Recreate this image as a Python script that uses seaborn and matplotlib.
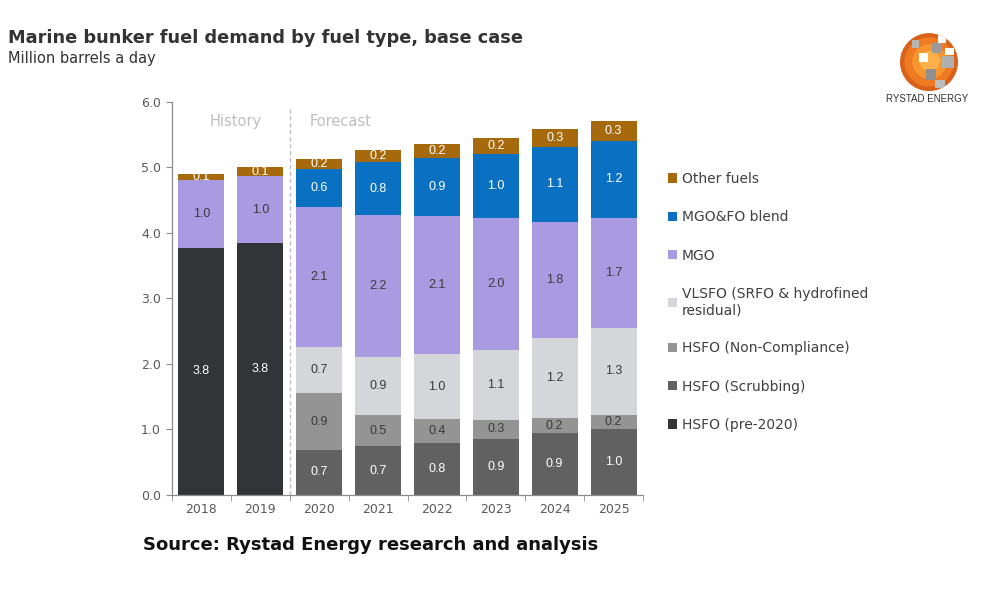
import numpy as np
import pandas as pd
import matplotlib
matplotlib.use("Agg")
import matplotlib.pyplot as plt
from matplotlib.patches import Patch, Circle, Rectangle
import seaborn as sns

# ---------------- data ----------------
years = ["2018", "2019", "2020", "2021", "2022", "2023", "2024", "2025"]
hsfo_pre2020 = [3.77, 3.84, 0, 0, 0, 0, 0, 0]
hsfo_scrubbing = [0, 0, 0.69, 0.74, 0.80, 0.86, 0.94, 1.00]
hsfo_noncompliance = [0, 0, 0.86, 0.48, 0.36, 0.28, 0.23, 0.22]
vlsfo = [0, 0, 0.71, 0.89, 0.99, 1.07, 1.22, 1.33]
mgo = [1.04, 1.03, 2.14, 2.16, 2.11, 2.02, 1.78, 1.68]
mgo_fo_blend = [0, 0, 0.57, 0.81, 0.88, 0.97, 1.14, 1.17]
other_fuels = [0.09, 0.13, 0.16, 0.18, 0.21, 0.24, 0.27, 0.31]

# legend order (top of stack first)
fuel_names = ["Other fuels", "MGO&FO blend", "MGO",
              "VLSFO (SRFO & hydrofined\nresidual)", "HSFO (Non-Compliance)",
              "HSFO (Scrubbing)", "HSFO (pre-2020)"]
series = [other_fuels, mgo_fo_blend, mgo, vlsfo, hsfo_noncompliance,
          hsfo_scrubbing, hsfo_pre2020]
colors = ["#A6690C", "#0A71C2", "#A99BE1", "#D4D6D9", "#949494", "#616161", "#323438"]
label_colors = ["white", "white", "#3a3a3a", "#3a3a3a", "#3a3a3a", "white", "white"]

y_ticks = [0.0, 1.0, 2.0, 3.0, 4.0, 5.0, 6.0]

# long table for seaborn
rows = []
for name, vals in zip(fuel_names, series):
    for yr, v in zip(years, vals):
        rows.append({"year": yr, "fuel": name, "value": v})
df = pd.DataFrame(rows)

# ---------------- figure ----------------
sns.set_style("white")
plt.rcParams["font.family"] = ["DejaVu Sans"]

fig = plt.figure(figsize=(10, 6), dpi=100)
ax = fig.add_axes([0.172, 0.175, 0.471, 0.6555])

pal = dict(zip(fuel_names, colors))
sns.histplot(data=df, x="year", weights="value", hue="fuel", hue_order=fuel_names,
             palette=pal, multiple="stack", discrete=True, shrink=0.78,
             alpha=1, linewidth=0, edgecolor="none", legend=False, ax=ax)

# value labels
for i, yr in enumerate(years):
    base = 0.0
    for k in range(len(series) - 1, -1, -1):
        v = series[k][i]
        if v > 0:
            ax.text(i, base + v / 2, f"{v:.1f}", ha="center", va="center",
                    fontsize=9, color=label_colors[k], family="Liberation Sans")
        base += v

ax.set_xlim(-0.5, len(years) - 0.5)
ax.set_ylim(0, 6)
ax.set_yticks(y_ticks)
ax.set_yticklabels([f"{t:.1f}" for t in y_ticks])
ax.set_xticks(range(len(years)))
ax.set_xticklabels(years)
ax.set_xticks(np.arange(-0.5, len(years), 1.0), minor=True)
ax.set_xlabel("")
ax.set_ylabel("")

for s in ["top", "right"]:
    ax.spines[s].set_visible(False)
for s in ["left", "bottom"]:
    ax.spines[s].set_color("#8c8c8c")
    ax.spines[s].set_linewidth(0.9)
ax.tick_params(axis="y", direction="out", length=4, color="#8c8c8c",
               labelsize=9, labelcolor="#595959", pad=4, left=True)
ax.tick_params(axis="x", which="major", length=0, labelsize=9,
               labelcolor="#595959", pad=6)
ax.tick_params(axis="x", which="minor", direction="out", length=4,
               color="#8c8c8c", bottom=True)
ax.grid(False)

# history / forecast divider
ax.plot([1.5, 1.5], [0, 5.9], ls=(0, (3, 2)), color="#BFBFBF", lw=1)
ax.text(0.59, 5.7, "History", ha="center", va="center", fontsize=10.5, color="#BFBFBF")
ax.text(1.83, 5.7, "Forecast", ha="left", va="center", fontsize=10.5, color="#BFBFBF")

# legend
handles = [Patch(facecolor=c, edgecolor="none") for c in colors]
fig.legend(handles, fuel_names, loc="upper left", bbox_to_anchor=(0.661, 0.725),
           frameon=False, fontsize=10, labelcolor="#404040", handlelength=0.65,
           handleheight=0.65, handletextpad=0.35, labelspacing=1.75, borderpad=0)

# titles
fig.text(0.008, 0.936, "Marine bunker fuel demand by fuel type, base case",
         fontsize=12.75, fontweight="bold", color="#333333", va="center", ha="left")
fig.text(0.008, 0.902, "Million barrels a day", fontsize=10.5, color="#333333",
         va="center", ha="left")
fig.text(0.143, 0.092, "Source: Rystad Energy research and analysis",
         fontsize=13, fontweight="bold", color="#111111", va="center", ha="left")

# logo
lax = fig.add_axes([0.900, 0.848, 0.058, 0.097])
lax.set_xlim(-1, 1)
lax.set_ylim(-1, 1)
lax.set_aspect("equal")
lax.axis("off")
for r, c in [(1.0, "#D9621A"), (0.85, "#EE7B22"), (0.6, "#F7962E"), (0.35, "#FBB04A")]:
    lax.add_patch(Circle((0.05 * (1 - r), 0.05 * (1 - r)), r, color=c, lw=0))
clip = Circle((0, 0), 1.0, transform=lax.transData)
for (x0, y0, w, h, c) in [(0.1, 0.3, 0.35, 0.35, "#9a9a9a"), (0.45, -0.2, 0.4, 0.4, "#b0b0b0"),
                          (-0.1, -0.6, 0.35, 0.35, "#8f8f8f"), (0.3, 0.65, 0.3, 0.3, "white"),
                          (-0.35, 0.0, 0.3, 0.3, "white"), (0.55, 0.25, 0.3, 0.25, "white"),
                          (0.2, -0.9, 0.35, 0.3, "#bdbdbd"), (-0.6, 0.5, 0.25, 0.25, "#b5b5b5")]:
    rect = Rectangle((x0, y0), w, h, color=c, lw=0)
    lax.add_patch(rect)
    rect.set_clip_path(clip)
fig.text(0.927, 0.835, "RYSTAD ENERGY", fontsize=7, color="#333333",
         ha="center", va="center", family="Liberation Sans")

fig.savefig("out.png", dpi=100, facecolor="white")
